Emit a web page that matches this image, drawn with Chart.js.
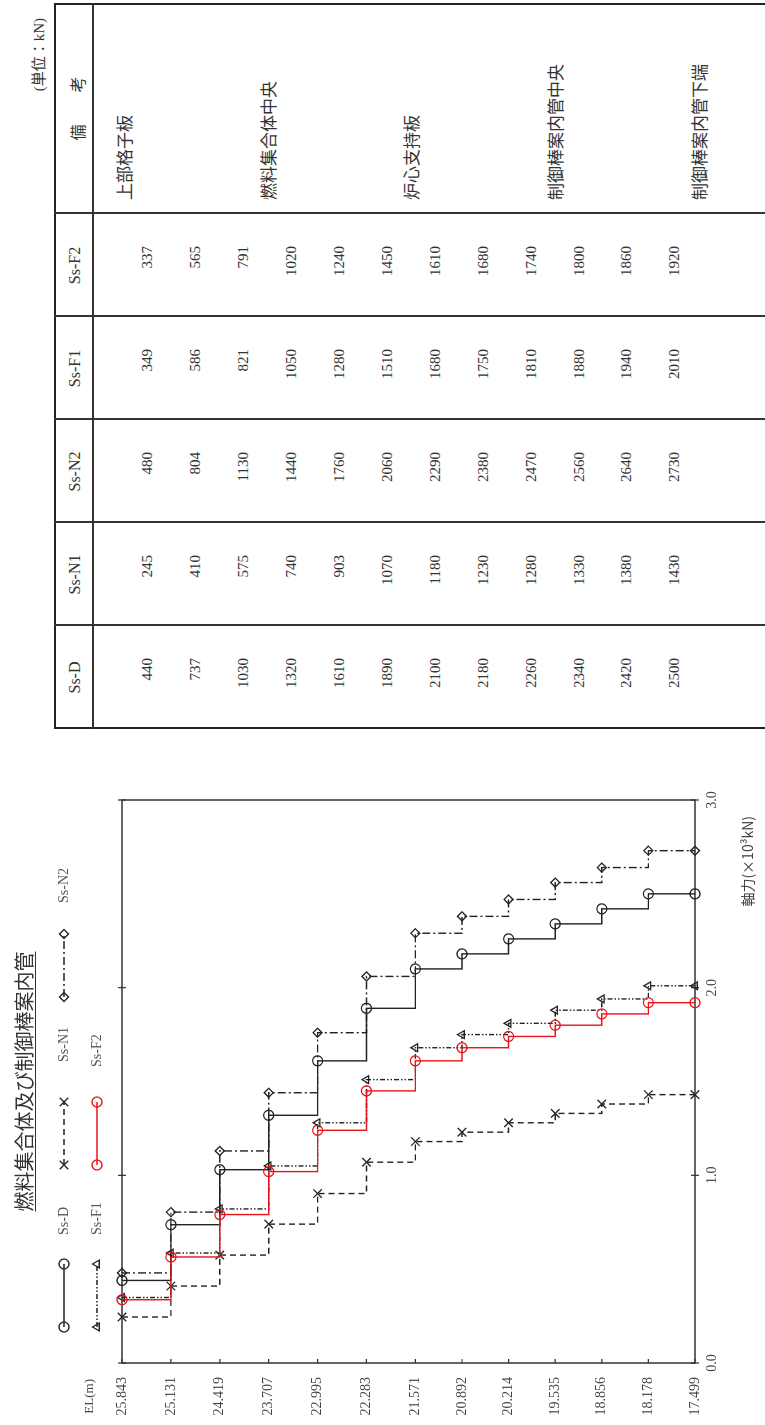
<!DOCTYPE html>
<html lang="ja">
<head>
<meta charset="utf-8">
<title>燃料集合体及び制御棒案内管</title>
<script src="https://cdn.jsdelivr.net/npm/chart.js@4.4.1/dist/chart.umd.min.js"></script>
<style>
  html, body { margin: 0; padding: 0; background: #fff; }
  body { width: 765px; height: 1425px; overflow: hidden; position: relative; }
  /* the sheet is laid out landscape, then turned a quarter left */
  #page { position: absolute; left: 0; top: 0; width: 1425px; height: 765px;
          transform-origin: 0 0; transform: translateY(1425px) rotate(-90deg); }
  #chart { position: absolute; left: 0; top: 0; }
  #table { position: absolute; left: 696px; top: 54px; width: 726px; height: 720px; }
  #unit { position: absolute; right: 18px; top: 27px; font: 15px "Liberation Serif", "Noto Sans CJK JP", serif; color: #333; white-space: nowrap; }
  .ln { position: absolute; background: #333; }
  .txt { position: absolute; white-space: nowrap; line-height: 1; color: #333; }
  .hd { font: 16px "Liberation Serif", "Noto Sans CJK JP", serif; }
  .val { font: 15px "Liberation Serif", serif; }
  .rm { font: 17px "Noto Sans CJK JP", sans-serif; }
</style>
</head>
<body>
<div id="page">
  <canvas id="chart" width="680" height="765"></canvas>
  <div id="unit">(単位：kN)</div>
  <div id="table"></div>
</div>
<script>
// EL levels (m), top to bottom
const levels = [25.843, 25.131, 24.419, 23.707, 22.995, 22.283, 21.571, 20.892, 20.214, 19.535, 18.856, 18.178, 17.499];
const forceTicks = [0, 1, 2, 3]; // x10^3 kN

// axial force per section (kN)
const seriesNames = ['Ss-D', 'Ss-N1', 'Ss-N2', 'Ss-F1', 'Ss-F2'];
const ssD  = [440, 737, 1030, 1320, 1610, 1890, 2100, 2180, 2260, 2340, 2420, 2500];
const ssN1 = [245, 410, 575, 740, 903, 1070, 1180, 1230, 1280, 1330, 1380, 1430];
const ssN2 = [480, 804, 1130, 1440, 1760, 2060, 2290, 2380, 2470, 2560, 2640, 2730];
const ssF1 = [349, 586, 821, 1050, 1280, 1510, 1680, 1750, 1810, 1880, 1940, 2010];
const ssF2 = [337, 565, 791, 1020, 1240, 1450, 1610, 1680, 1740, 1800, 1860, 1920];

const remarkLevels = [0, 3, 6, 9, 12];
const remarks = ['上部格子板', '燃料集合体中央', '炉心支持板', '制御棒案内管中央', '制御棒案内管下端'];

const SERIF = '"Liberation Serif", "DejaVu Serif", "Noto Sans CJK JP", serif';
const CJK = '"Noto Sans CJK JP", sans-serif';

// step profile: value holds from a level down to the next one
function steps(vals) {
  const pts = vals.map((v, i) => ({ x: v / 1000, y: levels[i] }));
  pts.push({ x: vals[vals.length - 1] / 1000, y: levels[levels.length - 1] });
  return pts;
}

const styles = [
  { data: ssD,  color: '#222', dash: [], point: 'circle', r: 5, order: 2 },
  { data: ssN1, color: '#222', dash: [6, 4], point: 'crossRot', r: 6, order: 4 },
  { data: ssN2, color: '#222', dash: [8, 3, 2, 3], point: 'rectRot', r: 4.5, order: 3 },
  { data: ssF1, color: '#222', dash: [5, 2, 1.5, 2, 1.5, 2], point: 'triangle', r: 4.5, order: 1 },
  { data: ssF2, color: '#e8141b', dash: [], point: 'circle', r: 5, order: 0 }
];

const datasets = styles.map((s, k) => ({
  label: seriesNames[k],
  data: steps(s.data),
  stepped: 'after',
  borderColor: s.color,
  borderWidth: 1.4,
  borderDash: s.dash,
  pointStyle: s.point,
  pointRadius: s.r,
  pointBorderWidth: 1.3,
  pointBorderColor: s.color,
  pointBackgroundColor: 'rgba(0,0,0,0)',
  fill: false,
  clip: false,
  order: s.order
}));

// legend slots: [dataset, line start, row, label start]
const legendSlots = [[0, 98, 64, 190], [1, 260, 64, 363], [2, 428, 64, 522], [3, 98, 97, 190], [4, 260, 97, 358]];

function marker(ctx, style, r, x, y) {
  if (Chart.helpers && Chart.helpers.drawPoint) {
    Chart.helpers.drawPoint(ctx, { pointStyle: style, radius: r, rotation: 0, borderWidth: 1.3 }, x, y);
    return;
  }
  ctx.beginPath();
  ctx.arc(x, y, r, 0, Math.PI * 2);
  ctx.stroke();
}

const decor = {
  id: 'decor',
  beforeDatasetsDraw(chart) {
    const { ctx, chartArea: a, scales: { x, y } } = chart;
    ctx.save();
    ctx.strokeStyle = '#333';
    ctx.lineWidth = 1.5;
    ctx.strokeRect(a.left, a.top, a.right - a.left, a.bottom - a.top);
    ctx.lineWidth = 1.2;
    ctx.beginPath();
    y.ticks.forEach(t => {
      const py = y.getPixelForValue(t.value);
      ctx.moveTo(a.left, py); ctx.lineTo(a.left + 4, py);
    });
    x.ticks.forEach(t => {
      const px = x.getPixelForValue(t.value);
      ctx.moveTo(px, a.top - 4); ctx.lineTo(px, a.top + 4);
      ctx.moveTo(px, a.bottom - 4); ctx.lineTo(px, a.bottom + 4);
    });
    ctx.stroke();
    ctx.restore();
  },
  afterDraw(chart) {
    const { ctx, chartArea: a } = chart;
    ctx.save();
    // title
    const title = '燃料集合体及び制御棒案内管';
    const cx = (a.left + a.right) / 2;
    ctx.font = '20px ' + CJK;
    ctx.fillStyle = '#333';
    ctx.textAlign = 'center';
    ctx.textBaseline = 'middle';
    ctx.fillText(title, cx, 24);
    const tw = ctx.measureText(title).width;
    ctx.strokeStyle = '#333';
    ctx.lineWidth = 1;
    ctx.beginPath();
    ctx.moveTo(cx - tw / 2, 35.5); ctx.lineTo(cx + tw / 2, 35.5);
    ctx.stroke();

    // legend
    legendSlots.forEach(([k, u, v, lu]) => {
      const ds = chart.data.datasets[k];
      ctx.strokeStyle = ds.borderColor;
      ctx.lineWidth = 1.4;
      ctx.setLineDash(ds.borderDash);
      ctx.beginPath();
      ctx.moveTo(u, v); ctx.lineTo(u + 63, v);
      ctx.stroke();
      ctx.setLineDash([]);
      ctx.fillStyle = 'rgba(0,0,0,0)';
      ctx.lineWidth = 1.3;
      marker(ctx, ds.pointStyle, ds.pointRadius, u, v);
      marker(ctx, ds.pointStyle, ds.pointRadius, u + 63, v);
      ctx.fillStyle = '#555';
      ctx.font = '14px ' + SERIF;
      ctx.textAlign = 'left';
      ctx.textBaseline = 'middle';
      ctx.fillText(ds.label, lu, v);
    });

    // axis titles
    ctx.fillStyle = '#444';
    ctx.font = '13px ' + SERIF;
    ctx.textAlign = 'right';
    ctx.textBaseline = 'middle';
    ctx.fillText('EL(m)', a.left - 16, 90);
    ctx.font = '14px ' + CJK;
    ctx.fillText('軸力(×10³kN)', a.right - 16, 748);
    ctx.restore();
  }
};

new Chart(document.getElementById('chart'), {
  type: 'line',
  data: { datasets: datasets },
  options: {
    responsive: false,
    animation: false,
    layout: { padding: { left: 0, right: 55, top: 122, bottom: 0 } },
    plugins: { legend: { display: false }, tooltip: { enabled: false } },
    scales: {
      x: {
        type: 'linear', min: 0, max: 3,
        grid: { display: false, drawTicks: false },
        border: { display: false },
        afterBuildTicks: s => { s.ticks = forceTicks.map(v => ({ value: v })); },
        afterFit: s => { s.height = 70; },
        ticks: { callback: v => v.toFixed(1), padding: 9, color: '#444', font: { family: SERIF, size: 14 }, autoSkip: false, maxRotation: 0 }
      },
      y: {
        type: 'linear', min: 17.499, max: 25.843,
        grid: { display: false, drawTicks: false },
        border: { display: false },
        afterBuildTicks: s => { s.ticks = levels.map(v => ({ value: v })); },
        afterFit: s => { s.width = 62; },
        ticks: { callback: v => v.toFixed(3), padding: 14, color: '#444', font: { family: SERIF, size: 14 }, autoSkip: false }
      }
    }
  },
  plugins: [decor]
});

// table of values, built from the same arrays
const tbl = document.getElementById('table');
const colW = 103, hdrH = 39, rowPitch = 47.9, firstRow = 93, top0 = 54;
function add(cls, css, text) {
  const d = document.createElement('div');
  d.className = cls;
  Object.assign(d.style, css);
  if (text !== undefined) d.textContent = text;
  tbl.appendChild(d);
  return d;
}
add('ln', { left: '0px', top: '0px', width: '2px', height: '720px', background: '#222' });
add('ln', { left: '0px', top: '0px', width: '726px', height: '2px', background: '#222' });
add('ln', { left: '724px', top: '0px', width: '2px', height: '720px', background: '#222' });
add('ln', { left: '0px', top: (hdrH - 1) + 'px', width: '726px', height: '1.5px' });
for (let k = 1; k <= 5; k++) {
  add('ln', { left: (k * colW) + 'px', top: '0px', width: '1.5px', height: '720px' });
}
seriesNames.forEach((n, k) => {
  add('txt hd', { left: (k * colW) + 'px', width: colW + 'px', top: (hdrH / 2 - 8) + 'px', textAlign: 'center' }, n);
});
add('txt rm', { left: (5 * colW) + 'px', width: (726 - 5 * colW) + 'px', top: (hdrH / 2 - 8.5) + 'px', textAlign: 'center', fontSize: '16px' }, '備　　考');
[ssD, ssN1, ssN2, ssF1, ssF2].forEach((arr, k) => {
  arr.forEach((v, i) => {
    const cy = firstRow + 30 + rowPitch * (i + 0.5) - top0;
    add('txt val', { left: (k * colW) + 'px', width: (colW - 32) + 'px', top: (cy - 7.5) + 'px', textAlign: 'right' }, String(v));
  });
});
remarks.forEach((t, j) => {
  const cy = firstRow + 30 + rowPitch * remarkLevels[j] - top0;
  add('txt rm', { left: (5 * colW + 14) + 'px', top: (cy - 12) + 'px' }, t);
});
</script>
</body>
</html>
